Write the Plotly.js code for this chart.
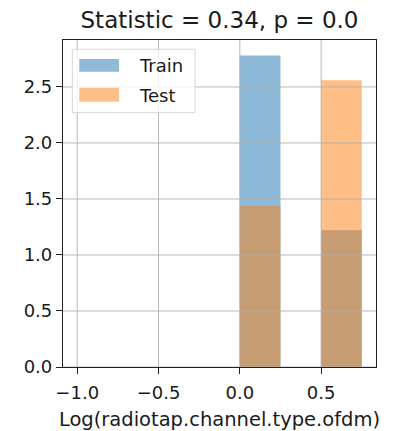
<!DOCTYPE html>
<html>
<head>
<meta charset="utf-8">
<script src="https://cdn.plot.ly/plotly-3.0.1.min.js"></script>
<style>html,body{margin:0;padding:0;background:#fff;}#chart{width:403px;height:431px;}</style>
</head>
<body>
<div id="chart"></div>
<script>
// Histogram bin edges (7 bins of width 0.25)
const binEdges = [-1.0, -0.75, -0.5, -0.25, 0.0, 0.25, 0.5, 0.75];
// Density per bin
const trainDensity = [0, 0, 0, 0, 2.78, 0, 1.22];
const testDensity  = [0, 0, 0, 0, 1.44, 0, 2.56];
const seriesNames = ['Train', 'Test'];
const xTicks = [-1.0, -0.5, 0.0, 0.5];
const yTicks = [0.0, 0.5, 1.0, 1.5, 2.0, 2.5];
const titleText = 'Statistic = 0.34, p = 0.0';
const xLabel = 'Log(radiotap.channel.type.ofdm)';

const centers = binEdges.slice(0, -1).map((e, i) => (e + binEdges[i + 1]) / 2);
const widths = binEdges.slice(0, -1).map((e, i) => binEdges[i + 1] - e);

const blue = '#1f77b4', orange = '#ff7f0e';
const font = 'DejaVu Sans, sans-serif';
const textColor = '#1a1a1a';

const traces = [
  {type: 'bar', name: seriesNames[0], x: centers, y: trainDensity, width: widths,
   marker: {color: blue, line: {width: 0}}, opacity: 0.5, showlegend: false},
  {type: 'bar', name: seriesNames[1], x: centers, y: testDensity, width: widths,
   marker: {color: orange, line: {width: 0}}, opacity: 0.5, showlegend: false}
];

const xmin = binEdges[0], xmax = binEdges[binEdges.length - 1];
const xpad = (xmax - xmin) * 0.05;
const ymax = Math.max(...trainDensity, ...testDensity) * 1.05;

const gridColor = '#b0b0b0';
const shapes = [];
xTicks.forEach(v => shapes.push({type: 'line', xref: 'x', yref: 'paper', x0: v, x1: v, y0: 0, y1: 1,
  line: {color: gridColor, width: 0.9}, layer: 'above'}));
yTicks.forEach(v => shapes.push({type: 'line', xref: 'paper', yref: 'y', x0: 0, x1: 1, y0: v, y1: v,
  line: {color: gridColor, width: 0.9}, layer: 'above'}));
// Legend box and patches
shapes.push({type: 'rect', xref: 'paper', yref: 'paper', x0: 0.0297, x1: 0.4217, y0: 0.7777, y1: 0.9716,
  fillcolor: 'rgba(255,255,255,0.8)', line: {color: '#d6d6d6', width: 1}, layer: 'above'});
shapes.push({type: 'rect', xref: 'paper', yref: 'paper', x0: 0.052, x1: 0.179, y0: 0.9031, y1: 0.9419,
  fillcolor: blue, opacity: 0.5, line: {width: 0}, layer: 'above'});
shapes.push({type: 'rect', xref: 'paper', yref: 'paper', x0: 0.052, x1: 0.179, y0: 0.8113, y1: 0.8541,
  fillcolor: orange, opacity: 0.5, line: {width: 0}, layer: 'above'});

const annotations = [
  {xref: 'paper', yref: 'paper', x: 0.2374, y: 0.9235, xanchor: 'left', yanchor: 'middle',
   text: seriesNames[0], showarrow: false, font: {family: font, size: 18, color: textColor}},
  {xref: 'paper', yref: 'paper', x: 0.2374, y: 0.8318, xanchor: 'left', yanchor: 'middle',
   text: seriesNames[1], showarrow: false, font: {family: font, size: 18, color: textColor}}
];

const layout = {
  width: 403, height: 431,
  margin: {l: 63, r: 27, t: 40, b: 64, pad: 0},
  paper_bgcolor: '#fff', plot_bgcolor: '#fff',
  font: {family: font, size: 18, color: textColor},
  barmode: 'overlay',
  title: {text: titleText, font: {family: font, size: 23, color: textColor},
          xref: 'paper', x: 0.5, xanchor: 'center', yref: 'container', y: 1 - 20 / 431, yanchor: 'middle'},
  xaxis: {range: [xmin - xpad, xmax + xpad], tickvals: xTicks, tickformat: '.1f',
          showgrid: false, zeroline: false, showline: true, mirror: true, linecolor: '#222', linewidth: 1.1,
          ticks: 'outside', ticklen: 6, tickwidth: 1, tickcolor: '#222', ticklabelstandoff: 3,
          title: {text: xLabel, font: {family: font, size: 19.5, color: textColor}, standoff: 10}},
  yaxis: {range: [0, ymax], tickvals: yTicks, tickformat: '.1f',
          showgrid: false, zeroline: false, showline: true, mirror: true, linecolor: '#222', linewidth: 1.1,
          ticks: 'outside', ticklen: 6, tickwidth: 1, tickcolor: '#222'},
  shapes: shapes,
  annotations: annotations
};

Plotly.newPlot('chart', traces, layout, {displayModeBar: false, staticPlot: true});
</script>
</body>
</html>
